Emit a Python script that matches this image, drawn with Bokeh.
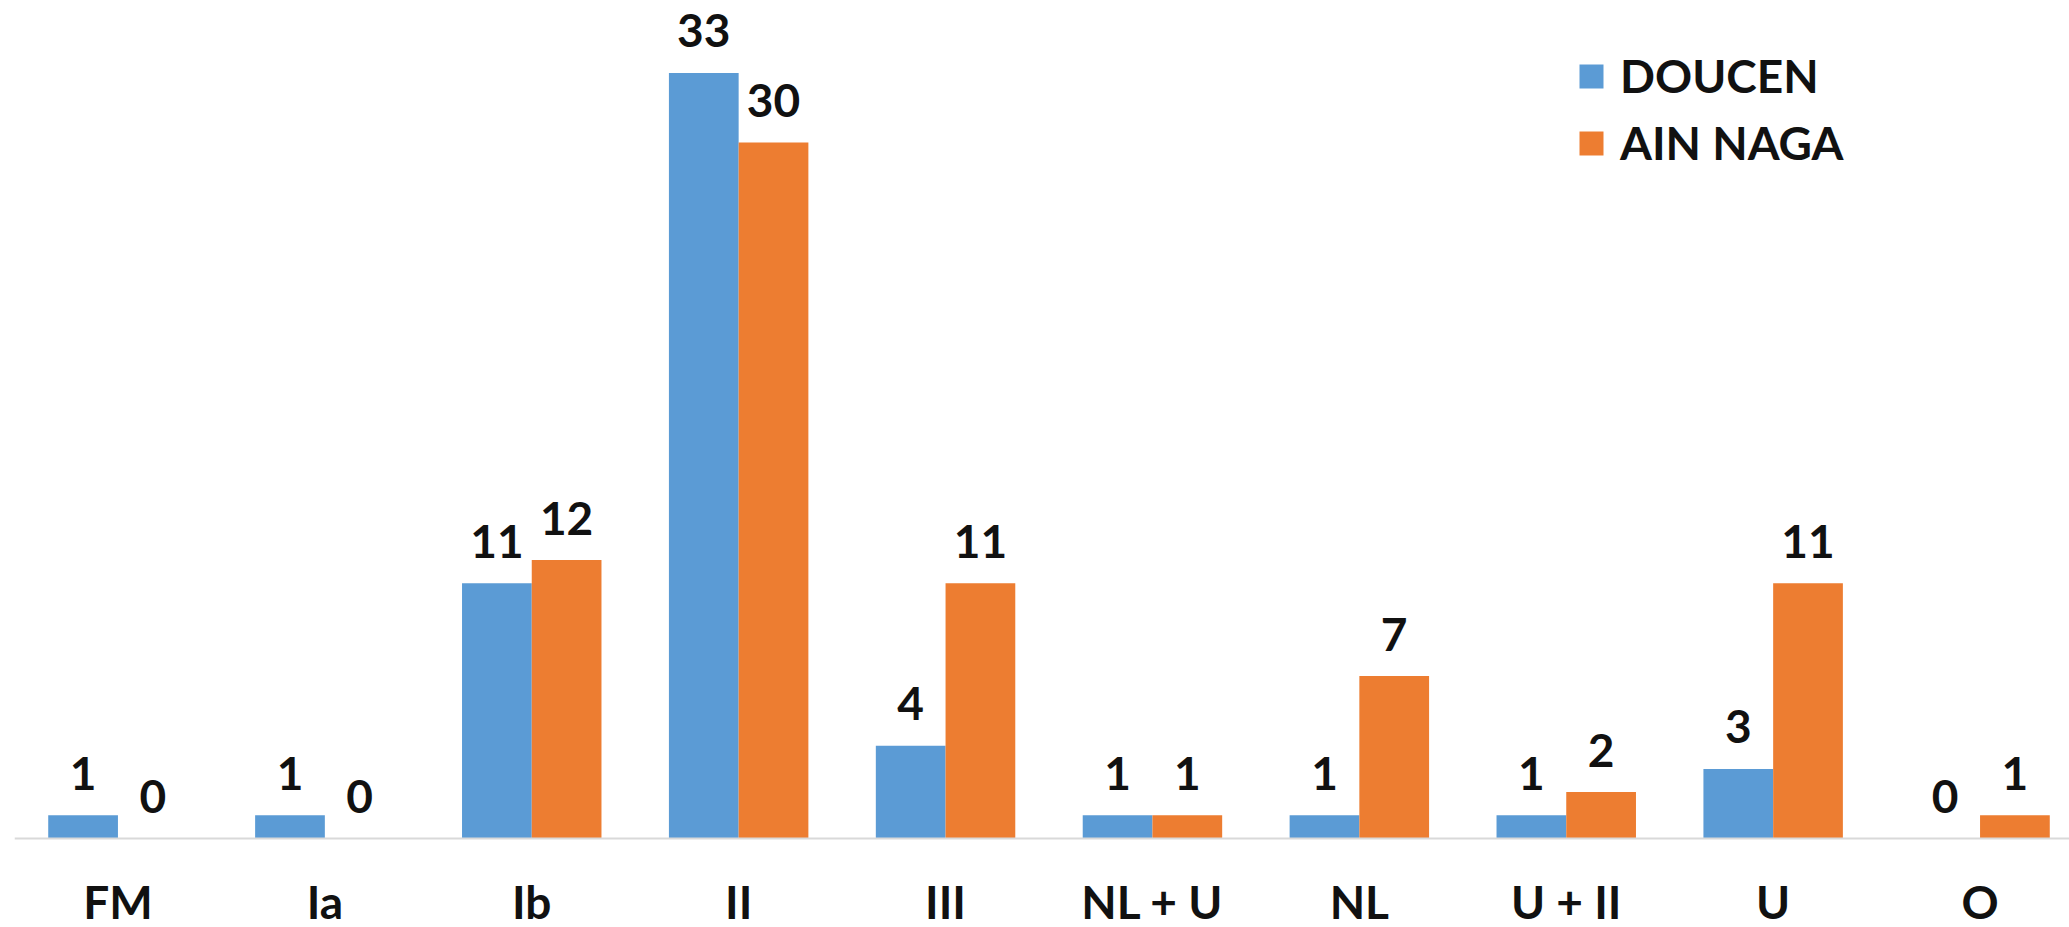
import numpy as np
from bokeh.plotting import figure
from bokeh.models import Range1d, ColumnDataSource, Legend, LegendItem, Span
from bokeh.core.properties import value
from bokeh.embed import file_html
from bokeh.resources import INLINE

categories = ["FM", "Ia", "Ib", "II", "III", "NL + U", "NL", "U + II", "U", "O"]
doucen = [1, 1, 11, 33, 4, 1, 1, 1, 3, 0]
ain_naga = [0, 0, 12, 30, 11, 1, 7, 2, 11, 1]
series_names = ["DOUCEN", "AIN NAGA"]
colors = ["#5B9BD5", "#ED7D31"]

FONT = "Lato"
W, H = 2069, 927
LEFT = 14
PX_PER_CAT = 206.9
BASE_Y = 838          # pixel row of the category baseline
PX_PER_UNIT = 23.2

p = figure(width=W, height=H, output_backend="svg", toolbar_location=None,
           x_range=Range1d(-0.5, -0.5 + (W - LEFT) / PX_PER_CAT),
           y_range=Range1d(-(H - BASE_Y) / PX_PER_UNIT, BASE_Y / PX_PER_UNIT),
           min_border_left=LEFT, min_border_right=0, min_border_top=0, min_border_bottom=0)
p.outline_line_color = None
p.grid.visible = False
p.xaxis.visible = False
p.yaxis.visible = False
p.background_fill_color = "white"
p.border_fill_color = "white"

x = np.arange(len(categories))
bw = 0.337
off = bw / 2
src = ColumnDataSource(dict(
    x=x, zero=np.zeros(len(categories)), cat=categories,
    xd=x - off, xa=x + off,
    d=doucen, a=ain_naga,
    ld=[str(v) for v in doucen], la=[str(v) for v in ain_naga],
))

r1 = p.vbar(x="xd", top="d", width=bw, bottom=0, source=src, fill_color=colors[0], line_color=None)
r2 = p.vbar(x="xa", top="a", width=bw, bottom=0, source=src, fill_color=colors[1], line_color=None)

for xc, yc, lc in (("xd", "d", "ld"), ("xa", "a", "la")):
    p.text(x=xc, y=yc, text=lc, source=src, text_align="center", text_baseline="alphabetic",
           y_offset=-42, text_font=value(FONT), text_font_style="bold",
           text_font_size="46px", text_color="#111111")

# category baseline
p.add_layout(Span(location=0, dimension="width", line_color="#d9d9d9", line_width=2))

# category labels
p.text(x="x", y="zero", text="cat", source=src, text_align="center", text_baseline="alphabetic",
       y_offset=63, text_font=value(FONT), text_font_style="bold",
       text_font_size="46px", text_color="#111111")

legend = Legend(items=[LegendItem(label=series_names[0], renderers=[r1]),
                       LegendItem(label=series_names[1], renderers=[r2])],
                location=(1562, 668 + (H - BASE_Y)),
                glyph_width=30, glyph_height=30, label_height=30,
                label_standoff=14, spacing=12, padding=0, margin=0,
                border_line_color=None, background_fill_alpha=0,
                label_text_font=FONT, label_text_font_style="bold",
                label_text_font_size="46px", label_text_color="#111111")
p.add_layout(legend)

open("out.html", "w").write(file_html(p, INLINE))
